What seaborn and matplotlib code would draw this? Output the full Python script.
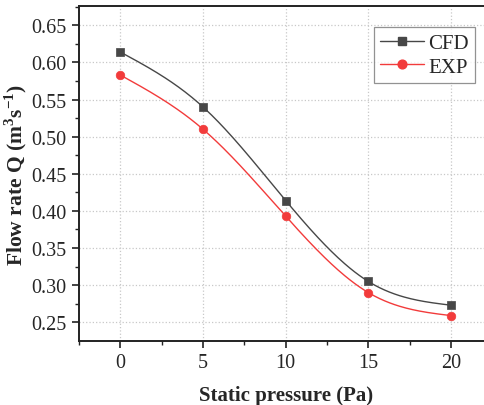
import matplotlib
matplotlib.use("Agg")
import matplotlib.pyplot as plt
from matplotlib.lines import Line2D
from matplotlib.ticker import MultipleLocator, FormatStrFormatter
import numpy as np
import pandas as pd
import seaborn as sns

pressure = [0, 5, 10, 15, 20]
cfd = [0.614, 0.540, 0.414, 0.305, 0.273]
exp = [0.583, 0.510, 0.393, 0.290, 0.259]

series_names = ["CFD", "EXP"]
colors = {"CFD": "#474747", "EXP": "#f23b3b"}
markers = {"CFD": "s", "EXP": "o"}
marker_sizes = {"CFD": 30, "EXP": 38}


def natural_spline(x, y, n=200):
    # natural cubic spline through the data points (smooth line style)
    x = np.asarray(x, float)
    y = np.asarray(y, float)
    k = len(x)
    h = np.diff(x)
    A = np.zeros((k, k))
    b = np.zeros(k)
    A[0, 0] = A[-1, -1] = 1
    for i in range(1, k - 1):
        A[i, i - 1] = h[i - 1]
        A[i, i] = 2 * (h[i - 1] + h[i])
        A[i, i + 1] = h[i]
        b[i] = 3 * ((y[i + 1] - y[i]) / h[i] - (y[i] - y[i - 1]) / h[i - 1])
    c = np.linalg.solve(A, b)
    xs = np.linspace(x[0], x[-1], n)
    ys = np.empty_like(xs)
    for j, xv in enumerate(xs):
        i = min(np.searchsorted(x, xv, side="right") - 1, k - 2)
        dx = xv - x[i]
        bi = (y[i + 1] - y[i]) / h[i] - h[i] * (2 * c[i] + c[i + 1]) / 3
        di = (c[i + 1] - c[i]) / (3 * h[i])
        ys[j] = y[i] + bi * dx + c[i] * dx ** 2 + di * dx ** 3
    return xs, ys


points = pd.DataFrame({
    "pressure": pressure * 2,
    "flow": cfd + exp,
    "series": ["CFD"] * len(cfd) + ["EXP"] * len(exp),
})

curves = []
for name, vals in zip(series_names, [cfd, exp]):
    xs, ys = natural_spline(pressure, vals)
    curves.append(pd.DataFrame({"pressure": xs, "flow": ys, "series": name}))
curves = pd.concat(curves, ignore_index=True)

sns.set_theme(style="white")
plt.rcParams["font.family"] = ["Liberation Serif", "DejaVu Serif"]
plt.rcParams["mathtext.fontset"] = "custom"
plt.rcParams["mathtext.rm"] = "Liberation Serif"
plt.rcParams["mathtext.bf"] = "Liberation Serif:bold"

fig = plt.figure(figsize=(4.85, 4.06), dpi=100)
ax = fig.add_axes([0.163, 0.1584, 0.852, 0.8236])

sns.lineplot(data=curves, x="pressure", y="flow", hue="series", palette=colors,
             linewidth=1.0, legend=False, ax=ax, zorder=3)
for name in series_names:
    sub = points[points["series"] == name]
    sns.scatterplot(data=sub, x="pressure", y="flow", color=colors[name],
                    marker=markers[name], s=marker_sizes[name], edgecolor=colors[name],
                    linewidth=0.5, legend=False, ax=ax, zorder=4)

ax.set_xlim(-2.5, 22.5)
ax.set_ylim(0.2252, 0.6756)
ax.set_xticks(pressure)
ax.xaxis.set_minor_locator(MultipleLocator(2.5))
ax.yaxis.set_major_locator(MultipleLocator(0.05))
ax.yaxis.set_minor_locator(MultipleLocator(0.025))
ax.yaxis.set_major_formatter(FormatStrFormatter("%.2f"))

ax.grid(True, which="major", linestyle=":", color="#c8c8c8", linewidth=0.9)
for s in ax.spines.values():
    s.set_linewidth(1.4)
    s.set_color("#222222")

ax.tick_params(axis="both", which="major", direction="out", length=5, width=1.2,
               labelsize=14.5, color="#222222", bottom=True, left=True, pad=4)
ax.tick_params(axis="both", which="minor", direction="out", length=3, width=1.0,
               color="#222222", bottom=True, left=True)

ax.set_xlabel("Static pressure (Pa)", fontsize=15, fontweight="bold", labelpad=9)
ax.set_ylabel(r"Flow rate Q (m$^\mathbf{3}$s$^\mathbf{-1}$)", fontsize=15.5,
              fontweight="bold", labelpad=1.5)

handles = [
    Line2D([], [], color=colors[n], marker=markers[n],
           markersize=5.5 if n == "CFD" else 6.3, linewidth=1.0)
    for n in series_names
]
leg = ax.legend(handles, series_names, loc="upper left", bbox_to_anchor=(0.714, 0.938),
                fontsize=15, frameon=True, fancybox=False, handlelength=2.1,
                handletextpad=0.2, borderpad=0.3, labelspacing=0.2,
                borderaxespad=0)
leg.get_frame().set_edgecolor("#777777")
leg.get_frame().set_linewidth(0.9)

fig.savefig("out.png", dpi=100, facecolor="white")
plt.close(fig)
